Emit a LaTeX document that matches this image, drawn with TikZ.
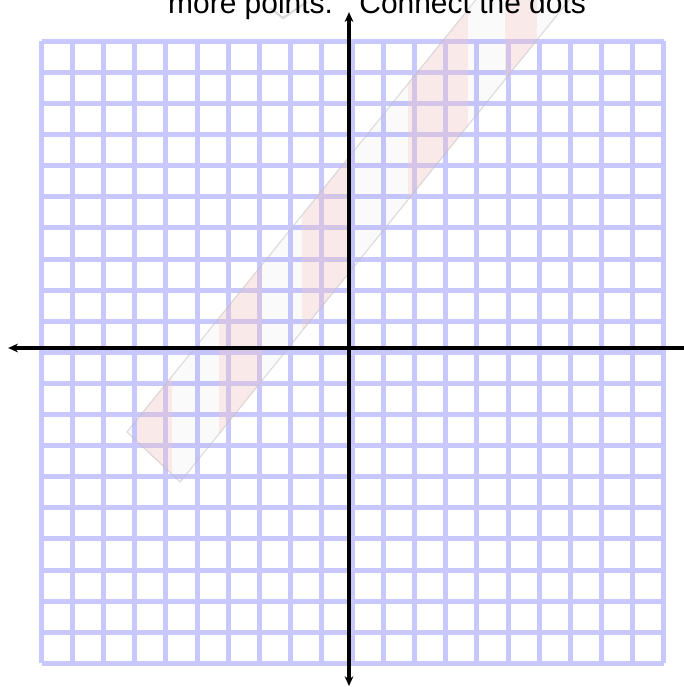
\documentclass[tikz,border=0pt]{standalone}
\usepackage{fontspec}
\setmainfont{Liberation Sans}
\usetikzlibrary{arrows.meta}
\definecolor{gridblue}{RGB}{200,200,255}
\definecolor{ghostpink}{RGB}{255,200,200}

\begin{document}
\begin{tikzpicture}[
    x=1cm, y=1cm,
    >=Stealth,
    gridline/.style={draw=gridblue, line width=4.6pt},
    axis/.style={<->, line width=3pt, >={Stealth[length=9pt,width=8pt]}},
    band/.style={fill=black, fill opacity=0.018, draw=black!25, draw opacity=0.55, line width=1pt},
    stripe/.style={fill=ghostpink, fill opacity=0.32},
    ghostline/.style={draw=black!15, line width=2pt},
    caption/.style={inner sep=0pt, anchor=base west, font=\fontsize{27.4}{30}\selectfont}
]
    \useasboundingbox (-11.222,-10.900) rectangle (10.740,11.190);

    % graph paper
    \draw[gridline, shift={(0.115,-0.14)}] (-10,-10) grid (10,10);

    % faint band showing through the page
    \coordinate (bandA) at (-7.14,-2.70);
    \coordinate (bandB) at (-5.43,-4.31);
    \coordinate (bandB2) at (8.39,12.81);
    \coordinate (bandA2) at (6.68,14.42);
    \begin{scope}
        \clip (bandA) -- (bandB) -- (bandB2) -- (bandA2) -- cycle;
        \foreach \xa/\xb in {-6.82/-5.69, -4.18/-2.80, -1.51/-0.06, 1.90/3.83, 5.02/6.05}
            \fill[stripe] (\xa,-11) rectangle (\xb,12);
    \end{scope}
    \draw[band] (bandA) -- (bandB) -- (bandB2) -- (bandA2) -- cycle;
    \draw[ghostline] (-2.54,10.93) -- (-2.12,10.61) -- (-1.35,11.13);

    % axes
    \coordinate (xmin) at (-10.96,0);
    \coordinate (xmax) at (11.10,0);
    \coordinate (ymax) at (0,10.80);
    \coordinate (ymin) at (0,-10.87);
    \draw[axis] (xmin) -- (xmax);
    \draw[axis] (ymin) -- (ymax);

    \node[caption] (prompt) at (-5.82,10.77) {more points.\hspace{0.85cm}Connect the dots};
\end{tikzpicture}
\end{document}
